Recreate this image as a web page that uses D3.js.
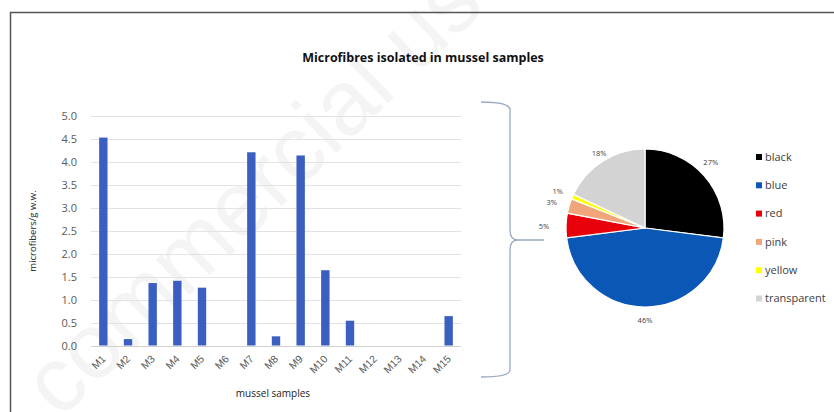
<!DOCTYPE html>
<html>
<head>
<meta charset="utf-8">
<script src="https://cdn.jsdelivr.net/npm/d3@7"></script>
<style>
  body { margin: 0; background: #fff; }
  svg { display: block; font-family: "Open Sans", "Liberation Sans", sans-serif; }
</style>
</head>
<body>
<svg id="chart" width="834" height="412"></svg>
<script>
// bar chart data
const samples = ["M1", "M2", "M3", "M4", "M5", "M6", "M7", "M8", "M9", "M10", "M11", "M12", "M13", "M14", "M15"];
const fibres = [4.53, 0.14, 1.36, 1.41, 1.26, 0, 4.21, 0.2, 4.14, 1.64, 0.54, 0, 0, 0, 0.64];
const yTicks = [0, 0.5, 1, 1.5, 2, 2.5, 3, 3.5, 4, 4.5, 5];

// pie data
const colourNames = ["black", "blue", "red", "pink", "yellow", "transparent"];
const colourShares = [27, 46, 5, 3, 1, 18];
const sliceColours = ["#000000", "#0b57b5", "#e8000b", "#f0a57a", "#ffff00", "#d3d3d3"];

const svg = d3.select("#chart");

// faint watermark
svg.append("text")
  .attr("transform", "translate(60,420) rotate(-44)")
  .attr("font-size", 92)
  .attr("fill", "#f4f4f4")
  .attr("font-family", "Liberation Sans, sans-serif")
  .text("commercial use");

// frame
svg.append("path")
  .attr("d", "M10.5,412 V12.5 H834")
  .attr("fill", "none")
  .attr("stroke", "#555")
  .attr("stroke-width", 1.5);

// title
svg.append("text")
  .attr("x", 423).attr("y", 62)
  .attr("text-anchor", "middle")
  .attr("font-weight", "bold")
  .attr("font-size", 12.5)
  .attr("fill", "#111")
  .text("Microfibres isolated in mussel samples");

// ---- bars ----
const x = d3.scaleBand().domain(samples).range([91, 461]).paddingInner(0.66).paddingOuter(0.33);
const y = d3.scaleLinear().domain([0, 5]).range([345.5, 116]);

const grid = svg.append("g");
grid.selectAll("line").data(yTicks).join("line")
  .attr("x1", 91).attr("x2", 461)
  .attr("y1", d => Math.round(y(d)) + 0.5).attr("y2", d => Math.round(y(d)) + 0.5)
  .attr("stroke", d => d === 0 ? "#d0d0d0" : "#e3e3e3");

const yAxis = svg.append("g")
  .attr("transform", "translate(80,0)")
  .call(d3.axisLeft(y).tickValues(yTicks).tickFormat(d3.format(".1f")).tickSize(0));
yAxis.select(".domain").remove();
yAxis.selectAll("text").attr("font-size", 11).attr("fill", "#595959")
  .attr("font-family", "Open Sans, sans-serif");

svg.append("g").selectAll("rect").data(fibres).join("rect")
  .attr("x", (d, i) => x(samples[i]))
  .attr("width", x.bandwidth())
  .attr("y", d => y(d))
  .attr("height", d => y(0) - y(d))
  .attr("fill", "#3a5fc0");

const xAxis = svg.append("g")
  .attr("transform", `translate(0,${y(0)})`)
  .call(d3.axisBottom(x).tickSize(0));
xAxis.select(".domain").remove();
xAxis.selectAll("text")
  .attr("font-size", 10.5)
  .attr("fill", "#595959")
  .attr("text-anchor", "end")
  .attr("y", 0)
  .attr("dy", 0)
  .attr("transform", "translate(3,14) rotate(-45)");

svg.append("text")
  .attr("x", 273).attr("y", 397)
  .attr("text-anchor", "middle")
  .attr("font-size", 10)
  .attr("fill", "#222")
  .text("mussel samples");

svg.append("text")
  .attr("transform", "translate(36,231) rotate(-90)")
  .attr("text-anchor", "middle")
  .attr("font-size", 9.5)
  .attr("fill", "#222")
  .text("microfibers/g w.w.");

// ---- brace ----
svg.append("path")
  .attr("d", "M481,102 Q510,102 510,110 V230 Q510,240 518,240 Q510,240 510,250 V370 Q510,377 481,377 M518,240 H544")
  .attr("fill", "none")
  .attr("stroke", "#9aaac0")
  .attr("stroke-width", 1.3);

// ---- pie ----
const cx = 645, cy = 228, r = 79;
const pie = d3.pie().sort(null).value(d => d)(colourShares);
const arc = d3.arc().innerRadius(0).outerRadius(r);
const pg = svg.append("g").attr("transform", `translate(${cx},${cy})`);
pg.selectAll("path").data(pie).join("path")
  .attr("d", arc)
  .attr("fill", (d, i) => sliceColours[i])
  .attr("stroke", "#fff")
  .attr("stroke-width", 1.2);

const labelArc = d3.arc().innerRadius(r + 14).outerRadius(r + 14);
const labelOffsets = [[-4, -4], [0, -1], [-8, 1], [-4, 0], [-2, 0], [4, 4]];
pg.selectAll("text").data(pie).join("text")
  .attr("transform", (d, i) => {
    const p = labelArc.centroid(d);
    return `translate(${p[0] + labelOffsets[i][0]},${p[1] + labelOffsets[i][1]})`;
  })
  .attr("text-anchor", "middle")
  .attr("dy", "0.35em")
  .attr("font-size", 7.5)
  .attr("fill", "#404040")
  .text(d => d.data + "%");

// legend
const legend = svg.append("g").attr("transform", "translate(756,157)");
const rows = legend.selectAll("g").data(colourNames).join("g")
  .attr("transform", (d, i) => `translate(0,${i * 28.3})`);
rows.append("rect")
  .attr("x", 0).attr("y", -3).attr("width", 6).attr("height", 6)
  .attr("fill", (d, i) => sliceColours[i]);
rows.append("text")
  .attr("x", 9).attr("dy", "0.35em")
  .attr("font-size", 11)
  .attr("fill", "#404040")
  .text(d => d);
</script>
</body>
</html>
